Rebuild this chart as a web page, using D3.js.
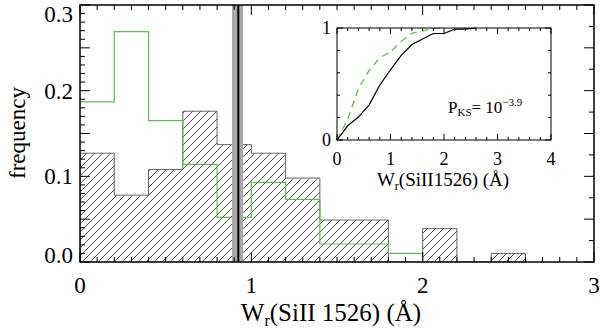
<!DOCTYPE html>
<html>
<head>
<meta charset="utf-8">
<script src="https://cdn.jsdelivr.net/npm/d3@7"></script>
<style>
  body { margin: 0; background: #fff; }
  text { font-family: "Liberation Serif", "DejaVu Serif", serif; fill: #000; }
</style>
</head>
<body>
<svg id="canvas" width="600" height="331"></svg>
<script>
// histogram bins (W_r, Angstrom)
let binEdges = [0, 0.2, 0.4, 0.6, 0.8, 1.0, 1.2, 1.4, 1.6, 1.8, 2.0, 2.2, 2.4, 2.6]
let hatchFreq = [0.127, 0.078, 0.108, 0.176, 0.137, 0.127, 0.098, 0.049, 0.049, 0, 0.039, 0, 0.010]
let greenFreq = [0.187, 0.269, 0.165, 0.114, 0.052, 0.093, 0.073, 0.021, 0.021, 0.010, 0, 0, 0]

// vertical marker and its band
let markerX = 0.924
let bandLo = 0.887
let bandHi = 0.952

let xTickLabels = [0, 1, 2, 3]
let yTickLabels = [0.0, 0.1, 0.2, 0.3]

// inset: cumulative distributions
let cdfX = [0, 0.2, 0.4, 0.6, 0.8, 1.0, 1.2, 1.4, 1.6, 1.8, 2.0, 2.2, 2.4, 2.6]
let blackCdf = [0, 0.127, 0.205, 0.314, 0.49, 0.627, 0.755, 0.853, 0.902, 0.951, 0.951, 0.99, 0.99, 1.0]
let greenCdfX = [0, 0.2, 0.4, 0.6, 0.8, 1.0, 1.2, 1.4, 1.6, 1.8, 2.0]
let greenCdf = [0, 0.187, 0.456, 0.621, 0.735, 0.787, 0.88, 0.953, 0.974, 0.995, 1.0]
let insetXTicks = [0, 1, 2, 3, 4]
let insetYTicks = [0, 1]

let green = '#5fbf4f'

let svg = d3.select('#canvas')

let x = d3.scaleLinear().domain([0, 3]).range([80, 594])
let y = d3.scaleLinear().domain([0, 0.3]).range([262, 5])

// hatch pattern
let defs = svg.append('defs')
let pat = defs.append('pattern')
    .attr('id', 'hatch')
    .attr('patternUnits', 'userSpaceOnUse')
    .attr('width', 8).attr('height', 8)
pat.append('path')
    .attr('d', 'M-2,2 L2,-2 M0,8 L8,0 M6,10 L10,6')
    .attr('stroke', '#222')
    .attr('stroke-width', 0.8)

let clip = defs.append('clipPath').attr('id', 'plotclip')
clip.append('rect').attr('x', 80).attr('y', 5).attr('width', 514).attr('height', 257)

let stepPath = (vals, fromZero) => {
    let p = d3.path()
    if (fromZero) {
        p.moveTo(x(binEdges[0]), y(0))
        p.lineTo(x(binEdges[0]), y(vals[0]))
    } else {
        p.moveTo(x(binEdges[0]), y(vals[0]))
    }
    vals.forEach((v, i) => {
        p.lineTo(x(binEdges[i]), y(v))
        p.lineTo(x(binEdges[i + 1]), y(v))
    })
    p.lineTo(x(binEdges[binEdges.length - 1]), y(0))
    return p.toString()
}

let plot = svg.append('g').attr('clip-path', 'url(#plotclip)')

// hatched histogram
plot.append('path')
    .attr('d', stepPath(hatchFreq, true))
    .attr('fill', 'url(#hatch)')
    .attr('stroke', '#666')
    .attr('stroke-width', 1)

// green histogram
plot.append('path')
    .attr('d', stepPath(greenFreq, false))
    .attr('fill', 'none')
    .attr('stroke', green)
    .attr('stroke-width', 1.2)

// marker band and line
plot.append('rect')
    .attr('x', x(bandLo)).attr('y', 5)
    .attr('width', x(bandHi) - x(bandLo)).attr('height', 257)
    .attr('fill', '#a8a8a8')
plot.append('line')
    .attr('x1', x(markerX)).attr('x2', x(markerX))
    .attr('y1', 5).attr('y2', 262)
    .attr('stroke', '#000').attr('stroke-width', 2)

// frame + ticks; right axis can have its own tick spacing
let drawFrame = (sx, sy, xMinor, xMajor, yMinor, yMajor, rMinor, rMajor, majLen, minLen, sw) => {
    let [xa, xb] = sx.range()
    let [ya, yb] = sy.range()
    let g = svg.append('g')
    g.append('rect')
        .attr('x', xa).attr('y', yb)
        .attr('width', xb - xa).attr('height', ya - yb)
        .attr('fill', 'none').attr('stroke', '#000').attr('stroke-width', sw)
    let isMajor = (v, step) => Math.abs(v / step - Math.round(v / step)) < 1e-6
    let [d0, d1] = sx.domain()
    let n = Math.round((d1 - d0) / xMinor)
    for (let i = 0; i <= n; i++) {
        let v = d0 + i * xMinor
        let len = isMajor(v, xMajor) ? majLen : minLen
        g.append('line').attr('x1', sx(v)).attr('x2', sx(v)).attr('y1', ya).attr('y2', ya - len)
        g.append('line').attr('x1', sx(v)).attr('x2', sx(v)).attr('y1', yb).attr('y2', yb + len)
    }
    let [e0, e1] = sy.domain()
    let m = Math.round((e1 - e0) / yMinor)
    for (let i = 0; i <= m; i++) {
        let v = e0 + i * yMinor
        let len = isMajor(v, yMajor) ? majLen : minLen
        g.append('line').attr('x1', xa).attr('x2', xa + len).attr('y1', sy(v)).attr('y2', sy(v))
    }
    let r = Math.round((e1 - e0) / rMinor)
    for (let i = 0; i <= r; i++) {
        let v = e0 + i * rMinor
        let len = isMajor(v, rMajor) ? majLen : minLen
        g.append('line').attr('x1', xb).attr('x2', xb - len).attr('y1', sy(v)).attr('y2', sy(v))
    }
    g.selectAll('line').attr('stroke', '#000').attr('stroke-width', 1)
}

drawFrame(x, y, 0.1, 1, 0.01, 0.05, 0.025, 0.05, 10, 5, 1.5)

// main tick labels
svg.selectAll('.xlab')
    .data(xTickLabels)
    .enter()
    .append('text')
    .attr('x', (d) => x(d))
    .attr('y', 293)
    .attr('text-anchor', 'middle')
    .style('font-size', '23px')
    .text((d) => d)

svg.selectAll('.ylab')
    .data(yTickLabels)
    .enter()
    .append('text')
    .attr('x', 73)
    .attr('y', (d) => Math.min(Math.max(y(d), 14), 255) + 8)
    .attr('text-anchor', 'end')
    .style('font-size', '23px')
    .text((d) => d.toFixed(1))

// axis titles
let xt = svg.append('text')
    .attr('x', 331).attr('y', 321)
    .attr('text-anchor', 'middle')
    .style('font-size', '25px')
xt.append('tspan').text('W')
xt.append('tspan').attr('dy', 5).style('font-size', '16px').text('r')
xt.append('tspan').attr('dy', -5).text('(SiII 1526) (Å)')

svg.append('text')
    .attr('transform', 'translate(25,133) rotate(-90)')
    .attr('text-anchor', 'middle')
    .style('font-size', '23px')
    .text('frequency')

// inset
let ix = d3.scaleLinear().domain([0, 4]).range([337, 551])
let iy = d3.scaleLinear().domain([0, 1]).range([140, 28])

let line = d3.line().x((d) => ix(d[0])).y((d) => iy(d[1]))

svg.append('path')
    .attr('d', line(greenCdfX.map((v, i) => [v, greenCdf[i]])))
    .attr('fill', 'none')
    .attr('stroke', green)
    .attr('stroke-width', 1.3)
    .attr('stroke-dasharray', '7,5')

svg.append('path')
    .attr('d', line(cdfX.map((v, i) => [v, blackCdf[i]])))
    .attr('fill', 'none')
    .attr('stroke', '#000')
    .attr('stroke-width', 1.2)

drawFrame(ix, iy, 0.2, 1, 0.2, 1, 0.2, 1, 6, 3, 1)

svg.selectAll('.ixlab')
    .data(insetXTicks)
    .enter()
    .append('text')
    .attr('x', (d) => ix(d))
    .attr('y', 165)
    .attr('text-anchor', 'middle')
    .style('font-size', '18px')
    .text((d) => d)

svg.selectAll('.iylab')
    .data(insetYTicks)
    .enter()
    .append('text')
    .attr('x', 331)
    .attr('y', (d) => iy(d) + 6)
    .attr('text-anchor', 'end')
    .style('font-size', '18px')
    .text((d) => d)

let it = svg.append('text')
    .attr('x', 443).attr('y', 186)
    .attr('text-anchor', 'middle')
    .style('font-size', '19px')
it.append('tspan').text('W')
it.append('tspan').attr('dy', 4).style('font-size', '12px').text('r')
it.append('tspan').attr('dy', -4).text('(SiII1526) (Å)')

let pk = svg.append('text')
    .attr('x', 448).attr('y', 113)
    .style('font-size', '17px')
pk.append('tspan').text('P')
pk.append('tspan').attr('dy', 3).style('font-size', '11px').text('KS')
pk.append('tspan').attr('dy', -3).text('= 10')
pk.append('tspan').attr('dy', -7).style('font-size', '11px').text('−3.9')
</script>
</body>
</html>
